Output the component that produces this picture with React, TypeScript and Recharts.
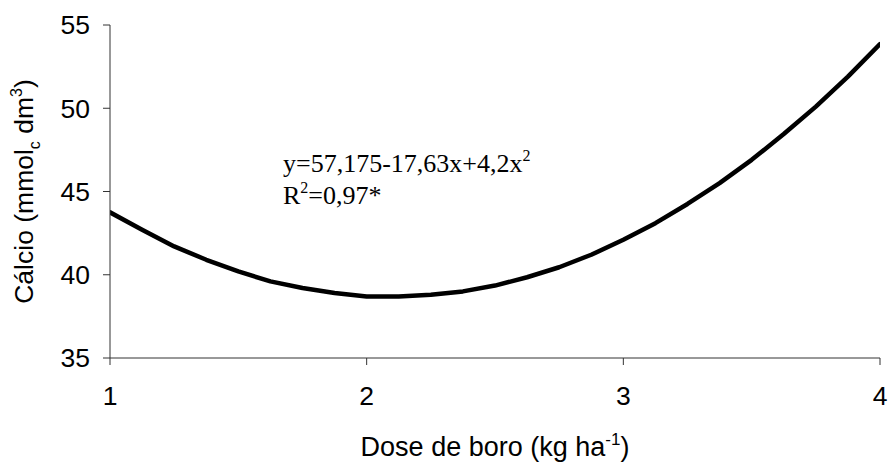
import React from "react";
import { LineChart, Line, XAxis, YAxis, Label } from "recharts";

const doses = [1, 1.125, 1.25, 1.375, 1.5, 1.625, 1.75, 1.875, 2, 2.125, 2.25, 2.375, 2.5, 2.625, 2.75, 2.875, 3, 3.125, 3.25, 3.375, 3.5, 3.625, 3.75, 3.875, 4];
const calcio = [43.75, 42.7, 41.7, 40.9, 40.2, 39.6, 39.2, 38.9, 38.7, 38.7, 38.8, 39.0, 39.35, 39.85, 40.45, 41.2, 42.1, 43.1, 44.25, 45.5, 46.9, 48.45, 50.1, 51.9, 53.85];
const xTicks = [1, 2, 3, 4];
const yTicks = [35, 40, 45, 50, 55];
const equationLine1 = "y=57,175-17,63x+4,2x";
const equationLine2 = "=0,97*";

const data = doses.map((d, i) => ({ dose: d, calcio: calcio[i] }));

const SANS = "Arial, 'Liberation Sans', sans-serif";
const SERIF = "'Times New Roman', 'Liberation Serif', serif";
const AXIS = "#333";

const XTitle = (props: any) => {
  const vb = props.viewBox || {};
  const cx = vb.x + vb.width / 2;
  const y = vb.y + 98;
  return (
    <text x={cx} y={y} textAnchor="middle" fontFamily={SANS} fontSize={27} fill="#000">
      Dose de boro (kg ha<tspan dy={-11} fontSize={17}>-1</tspan>
      <tspan dy={11}>)</tspan>
    </text>
  );
};

const YTitle = (props: any) => {
  const vb = props.viewBox || {};
  const cx = vb.x + 33;
  const cy = vb.y + vb.height / 2;
  return (
    <text
      x={cx}
      y={cy}
      transform={`rotate(-90 ${cx} ${cy})`}
      textAnchor="middle"
      fontFamily={SANS}
      fontSize={26.5}
      fill="#000"
    >
      Cálcio (mmol<tspan dy={7} fontSize={16}>c</tspan>
      <tspan dy={-7}> dm</tspan>
      <tspan dy={-11} fontSize={16}>3</tspan>
      <tspan dy={11}>)</tspan>
    </text>
  );
};

export default function App() {
  return (
    <div style={{ position: "absolute", left: 0, top: 0, width: 889, height: 465, background: "#fff" }}>
      <LineChart
        width={889}
        height={465}
        data={data}
        margin={{ top: 25, right: 9, bottom: 47, left: 0 }}
      >
        <XAxis
          dataKey="dose"
          type="number"
          domain={[1, 4]}
          ticks={xTicks}
          height={60}
          tickSize={7}
          tickMargin={21}
          stroke={AXIS}
          tick={{ fill: "#000", fontSize: 26.5, fontFamily: SANS }}
          allowDataOverflow
        >
          <Label content={XTitle} />
        </XAxis>
        <YAxis
          type="number"
          domain={[35, 55]}
          ticks={yTicks}
          width={110}
          tickSize={7}
          tickMargin={13}
          stroke={AXIS}
          tick={{ fill: "#000", fontSize: 26.5, fontFamily: SANS }}
          allowDataOverflow
        >
          <Label content={YTitle} />
        </YAxis>
        <Line
          dataKey="calcio"
          type="linear"
          stroke="#000"
          strokeWidth={4.5}
          dot={false}
          isAnimationActive={false}
          strokeLinejoin="round"
          strokeLinecap="round"
        />
      </LineChart>
      <div
        style={{
          position: "absolute",
          left: 283,
          top: 150,
          fontFamily: SERIF,
          fontSize: 26,
          lineHeight: "28.5px",
          color: "#000",
          whiteSpace: "nowrap",
        }}
      >
        <div>
          {equationLine1}
          <span style={{ fontSize: 16, position: "relative", top: -11 }}>2</span>
        </div>
        <div>
          R<span style={{ fontSize: 16, position: "relative", top: -11 }}>2</span>
          {equationLine2}
        </div>
      </div>
    </div>
  );
}
